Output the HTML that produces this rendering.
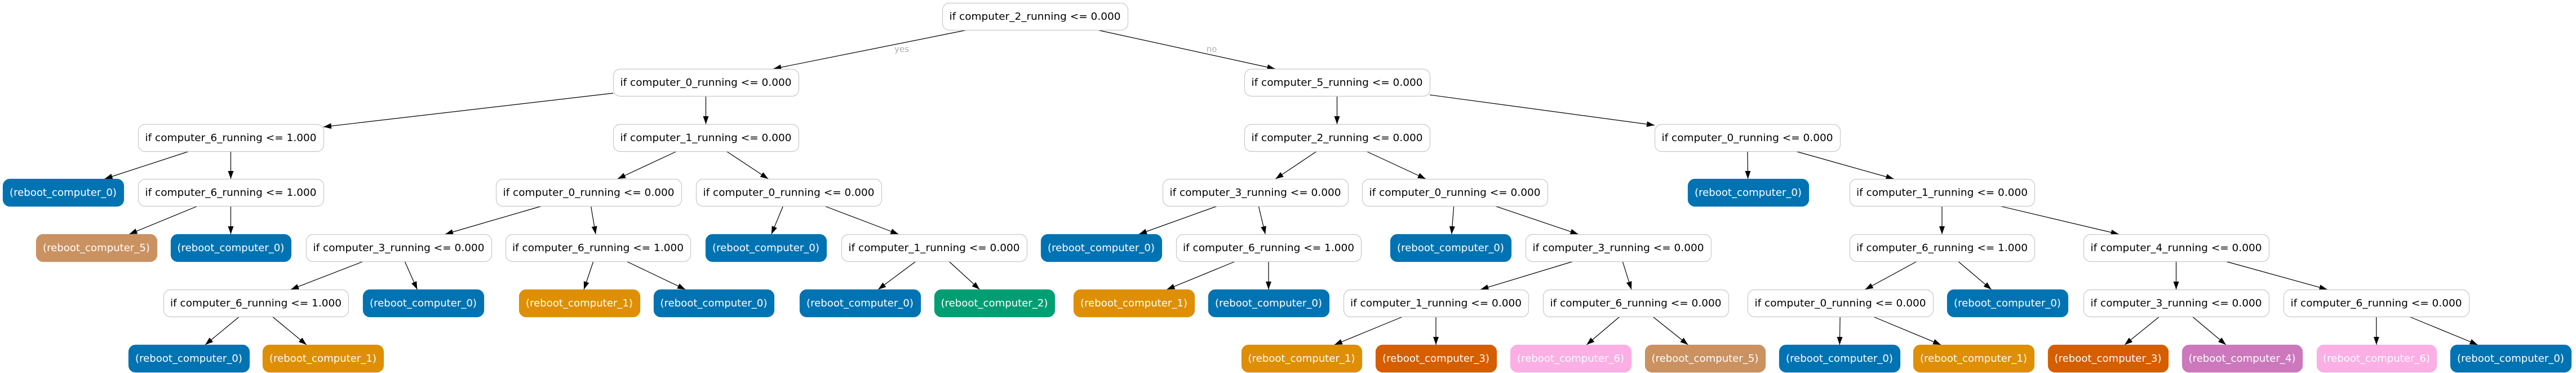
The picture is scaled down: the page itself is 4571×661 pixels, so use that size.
<!DOCTYPE html>
<html><head><meta charset="utf-8"><style>
html,body{margin:0;padding:0;background:#fff;}
svg{display:block;}
text{font-family:"DejaVu Sans","Liberation Sans",sans-serif;font-size:18px;text-anchor:middle;}
.w{fill:#fff;}
.l{fill:#000;}
</style></head><body>
<svg id="s" width="4571" height="661" viewBox="0 0 4571 661" xmlns="http://www.w3.org/2000/svg">
<defs><marker id="a" markerUnits="userSpaceOnUse" markerWidth="14" markerHeight="10" refX="14" refY="5" orient="auto"><path d="M0,0 L14,5 L0,10 z" fill="#000"/></marker></defs>
<g id="edges"></g>
<g id="boxes"></g>
<g id="labels">
<text x="1600" y="92" style="fill:#b0b0b0;font-size:15px">yes</text>
<text x="2150" y="92" style="fill:#b0b0b0;font-size:15px">no</text>
<text class="l" x="1836.5" y="35">if computer_2_running &lt;= 0.000</text>
<text class="l" x="1252.5" y="152">if computer_0_running &lt;= 0.000</text>
<text class="l" x="2372.5" y="152">if computer_5_running &lt;= 0.000</text>
<text class="l" x="409.5" y="250">if computer_6_running &lt;= 1.000</text>
<text class="l" x="1252.5" y="250">if computer_1_running &lt;= 0.000</text>
<text class="w" x="112" y="347">(reboot_computer_0)</text>
<text class="l" x="409.5" y="347">if computer_6_running &lt;= 1.000</text>
<text class="w" x="171" y="445">(reboot_computer_5)</text>
<text class="w" x="409.5" y="445">(reboot_computer_0)</text>
<text class="l" x="1044.5" y="347">if computer_0_running &lt;= 0.000</text>
<text class="l" x="1399.5" y="347">if computer_0_running &lt;= 0.000</text>
<text class="l" x="707.5" y="445">if computer_3_running &lt;= 0.000</text>
<text class="l" x="1061" y="445">if computer_6_running &lt;= 1.000</text>
<text class="l" x="454" y="543">if computer_6_running &lt;= 1.000</text>
<text class="w" x="751" y="543">(reboot_computer_0)</text>
<text class="w" x="335" y="641">(reboot_computer_0)</text>
<text class="w" x="573" y="641">(reboot_computer_1)</text>
<text class="w" x="1028" y="543">(reboot_computer_1)</text>
<text class="w" x="1266.5" y="543">(reboot_computer_0)</text>
<text class="w" x="1359" y="445">(reboot_computer_0)</text>
<text class="l" x="1657.5" y="445">if computer_1_running &lt;= 0.000</text>
<text class="w" x="1526" y="543">(reboot_computer_0)</text>
<text class="w" x="1764.5" y="543">(reboot_computer_2)</text>
<text class="l" x="2372.5" y="250">if computer_2_running &lt;= 0.000</text>
<text class="l" x="3100.5" y="250">if computer_0_running &lt;= 0.000</text>
<text class="l" x="2227.5" y="347">if computer_3_running &lt;= 0.000</text>
<text class="l" x="2581.5" y="347">if computer_0_running &lt;= 0.000</text>
<text class="w" x="1954" y="445">(reboot_computer_0)</text>
<text class="l" x="2251" y="445">if computer_6_running &lt;= 1.000</text>
<text class="w" x="2012" y="543">(reboot_computer_1)</text>
<text class="w" x="2251" y="543">(reboot_computer_0)</text>
<text class="w" x="2574" y="445">(reboot_computer_0)</text>
<text class="l" x="2871.5" y="445">if computer_3_running &lt;= 0.000</text>
<text class="l" x="2548" y="543">if computer_1_running &lt;= 0.000</text>
<text class="l" x="2902.5" y="543">if computer_6_running &lt;= 0.000</text>
<text class="w" x="2309.5" y="641">(reboot_computer_1)</text>
<text class="w" x="2548" y="641">(reboot_computer_3)</text>
<text class="w" x="2787" y="641">(reboot_computer_6)</text>
<text class="w" x="3025.5" y="641">(reboot_computer_5)</text>
<text class="w" x="3102" y="347">(reboot_computer_0)</text>
<text class="l" x="3446" y="347">if computer_1_running &lt;= 0.000</text>
<text class="l" x="3446" y="445">if computer_6_running &lt;= 1.000</text>
<text class="l" x="3861.5" y="445">if computer_4_running &lt;= 0.000</text>
<text class="l" x="3265.5" y="543">if computer_0_running &lt;= 0.000</text>
<text class="w" x="3562" y="543">(reboot_computer_0)</text>
<text class="w" x="3264" y="641">(reboot_computer_0)</text>
<text class="w" x="3502" y="641">(reboot_computer_1)</text>
<text class="l" x="3861.5" y="543">if computer_3_running &lt;= 0.000</text>
<text class="l" x="4216.5" y="543">if computer_6_running &lt;= 0.000</text>
<text class="w" x="3740.5" y="641">(reboot_computer_3)</text>
<text class="w" x="3978.5" y="641">(reboot_computer_4)</text>
<text class="w" x="4217" y="641">(reboot_computer_6)</text>
<text class="w" x="4455" y="641">(reboot_computer_0)</text>
</g>
</svg>
<script>
var R=[5,122,220,317,415,513,611],H=48;
var C=['#0173b2','#de8f05','#029e73','#d55e00','#cc78bc','#ca9161','#fbafe4'];
var N=[
[1672,2001,0,-1],[1088,1417,1,-1],[2208,2537,1,-1],[245,574,2,-1],[1088,1417,2,-1],
[5,219,3,0],[245,574,3,-1],[64,278,4,5],[303,516,4,0],[880,1209,3,-1],
[1235,1564,3,-1],[543,872,4,-1],[897,1225,4,-1],[290,618,5,-1],[644,858,5,0],
[228,442,6,0],[466,680,6,1],[921,1135,5,1],[1160,1373,5,0],[1252,1466,4,0],
[1493,1822,4,-1],[1419,1633,5,0],[1658,1871,5,2],[2208,2537,2,-1],[2936,3265,2,-1],
[2063,2392,3,-1],[2417,2746,3,-1],[1847,2061,4,0],[2087,2415,4,-1],[1905,2119,5,1],
[2144,2358,5,0],[2467,2681,4,0],[2707,3036,4,-1],[2384,2712,5,-1],[2738,3067,5,-1],
[2203,2416,6,1],[2441,2655,6,3],[2680,2894,6,6],[2919,3132,6,5],[2995,3209,3,0],
[3282,3610,3,-1],[3282,3610,4,-1],[3697,4026,4,-1],[3101,3430,5,-1],[3455,3669,5,0],
[3157,3371,6,0],[3395,3609,6,1],[3697,4026,5,-1],[4052,4381,5,-1],[3634,3847,6,3],
[3872,4085,6,4],[4111,4323,6,6],[4348,4562,6,0]];
var E=[[0,1],[0,2],[1,3],[1,4],[3,5],[3,6],[6,7],[6,8],[4,9],[4,10],[9,11],[9,12],[11,13],[11,14],
[13,15],[13,16],[12,17],[12,18],[10,19],[10,20],[20,21],[20,22],[2,23],[2,24],[23,25],[23,26],
[25,27],[25,28],[28,29],[28,30],[26,31],[26,32],[32,33],[32,34],[33,35],[33,36],[34,37],[34,38],
[24,39],[24,40],[40,41],[40,42],[41,43],[41,44],[43,45],[43,46],[42,47],[42,48],[47,49],[47,50],[48,51],[48,52]];
var ns='http://www.w3.org/2000/svg';
var bx=document.getElementById('boxes'),eg=document.getElementById('edges');
N.forEach(function(n){var r=document.createElementNS(ns,'rect');
r.setAttribute('x',n[0]+0.5);r.setAttribute('y',R[n[2]]+0.5);r.setAttribute('width',n[1]-n[0]);r.setAttribute('height',H);
r.setAttribute('rx',12);r.setAttribute('ry',12);
if(n[3]<0){r.setAttribute('fill','#fff');r.setAttribute('stroke','#c8c8c8');}else{r.setAttribute('fill',C[n[3]]);r.setAttribute('stroke',C[n[3]]);}
r.setAttribute('stroke-width',1.2);bx.appendChild(r);});
function c(n){return [(n[0]+n[1])/2,R[n[2]]+H/2,(n[1]-n[0])/2,H/2];}
E.forEach(function(e){var a=c(N[e[0]]),b=c(N[e[1]]);var dx=b[0]-a[0],dy=b[1]-a[1];
function t(p){var tx=Math.abs(dx)>0.01?p[2]/Math.abs(dx):1e9,ty=p[3]/Math.abs(dy);return Math.min(tx,ty);}
var t1=t(a),t2=t(b);var l=document.createElementNS(ns,'line');
l.setAttribute('x1',a[0]+dx*t1);l.setAttribute('y1',a[1]+dy*t1);l.setAttribute('x2',b[0]-dx*t2);l.setAttribute('y2',b[1]-dy*t2);
l.setAttribute('stroke','#000');l.setAttribute('stroke-width',1.2);l.setAttribute('marker-end','url(#a)');eg.appendChild(l);});
Array.prototype.forEach.call(document.querySelectorAll('#labels text.l'),function(t){t.setAttribute('textLength',304);t.setAttribute('lengthAdjust','spacingAndGlyphs');});
Array.prototype.forEach.call(document.querySelectorAll('#labels text.w'),function(t){t.setAttribute('textLength',190);t.setAttribute('lengthAdjust','spacingAndGlyphs');});
</script>
</body></html>
